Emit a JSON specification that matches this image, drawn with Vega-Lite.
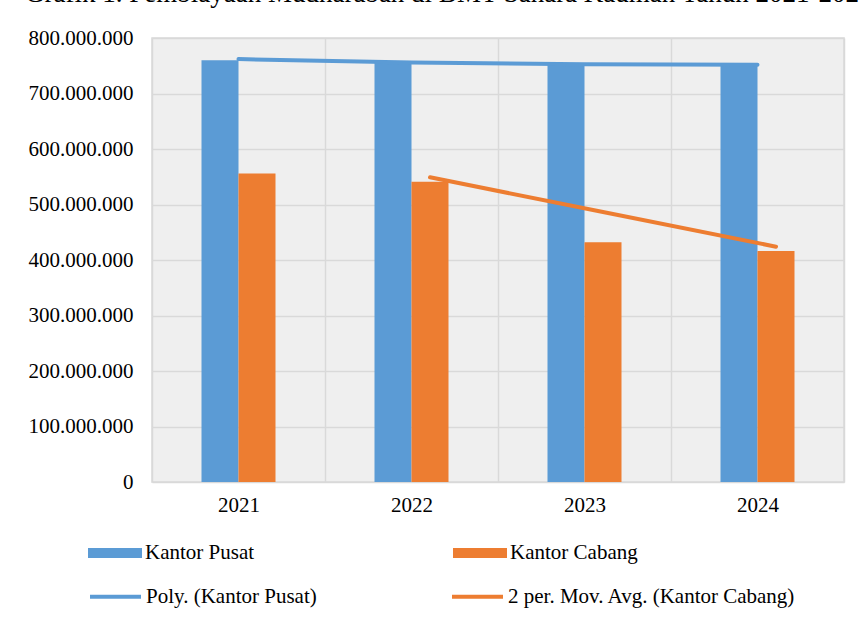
{
  "$schema": "https://vega.github.io/schema/vega-lite/v6.json",
  "width": 692,
  "height": 444,
  "autosize": "none",
  "padding": {"left": 152, "top": 38, "right": 16, "bottom": 136},
  "background": "white",
  "title": {
    "text": "Grafik 1. Pembiayaan Mudharabah di BMT Sahara Kauman Tahun 2021-2024",
    "anchor": "start",
    "frame": "group",
    "font": "Liberation Serif",
    "fontSize": 27,
    "fontWeight": "normal",
    "color": "black",
    "baseline": "alphabetic",
    "offset": 17,
    "dx": -127,
    "dy": 19
  },
  "config": {
    "locale": {"number": {"decimal": ",", "thousands": ".", "grouping": [3], "currency": ["Rp", ""]}},
    "view": {"fill": "#efefef", "stroke": "#d9d9d9", "strokeWidth": 1.5},
    "font": "Liberation Serif",
    "axis": {"labelFont": "Liberation Serif"},
    "legend": {"labelFont": "Liberation Serif"}
  },
  "datasets": {
    "bars": [
      {"year": "2021", "series": "Kantor Pusat", "value": 760000000},
      {"year": "2021", "series": "Kantor Cabang", "value": 556000000},
      {"year": "2022", "series": "Kantor Pusat", "value": 756000000},
      {"year": "2022", "series": "Kantor Cabang", "value": 541000000},
      {"year": "2023", "series": "Kantor Pusat", "value": 754000000},
      {"year": "2023", "series": "Kantor Cabang", "value": 432000000},
      {"year": "2024", "series": "Kantor Pusat", "value": 754000000},
      {"year": "2024", "series": "Kantor Cabang", "value": 416000000}
    ],
    "poly": [
      {"year": "2021", "trend": "Poly. (Kantor Pusat)", "value": 762000000},
      {"year": "2022", "trend": "Poly. (Kantor Pusat)", "value": 756000000},
      {"year": "2023", "trend": "Poly. (Kantor Pusat)", "value": 752500000},
      {"year": "2024", "trend": "Poly. (Kantor Pusat)", "value": 752000000}
    ],
    "ma": [
      {"year": "2022", "trend": "2 per. Mov. Avg. (Kantor Cabang)", "value": 549000000},
      {"year": "2023", "trend": "2 per. Mov. Avg. (Kantor Cabang)", "value": 486500000},
      {"year": "2024", "trend": "2 per. Mov. Avg. (Kantor Cabang)", "value": 424000000}
    ]
  },
  "layer": [
    {
      "data": {"name": "bars"},
      "mark": {"type": "bar"},
      "encoding": {
        "x": {
          "field": "year",
          "type": "ordinal",
          "scale": {"paddingInner": 0, "paddingOuter": 0},
          "axis": {
            "title": null,
            "labelAngle": 0,
            "labelFont": "Liberation Serif",
            "labelFontSize": 21,
            "labelColor": "black",
            "labelPadding": 12,
            "ticks": false,
            "domain": false,
            "grid": true,
            "tickBand": "extent",
            "gridColor": "#d9d9d9",
            "gridWidth": 1.5
          }
        },
        "xOffset": {
          "field": "series",
          "type": "nominal",
          "scale": {"domain": ["_a", "Kantor Pusat", "Kantor Cabang", "_b"], "paddingInner": 0, "paddingOuter": 0.338}
        },
        "y": {
          "field": "value",
          "type": "quantitative",
          "scale": {"domain": [0, 800000000], "nice": false},
          "axis": {
            "title": null,
            "values": [0, 100000000, 200000000, 300000000, 400000000, 500000000, 600000000, 700000000, 800000000],
            "format": ",.0f",
            "labelFont": "Liberation Serif",
            "labelFontSize": 21,
            "labelColor": "black",
            "labelPadding": 19,
            "ticks": false,
            "domain": false,
            "gridColor": "#d9d9d9",
            "gridWidth": 1.5
          }
        },
        "color": {
          "field": "series",
          "type": "nominal",
          "scale": {"domain": ["Kantor Pusat", "Kantor Cabang"], "range": ["#5b9bd5", "#ed7d31"]},
          "legend": {
            "orient": "none",
            "legendX": -64,
            "legendY": 488,
            "direction": "horizontal",
            "columns": 2,
            "columnPadding": 198,
            "padding": 0,
            "title": null,
            "symbolType": "M-1,-0.185H1V0.185H-1Z",
            "symbolSize": 2916,
            "symbolStrokeWidth": 0,
            "symbolOpacity": 1,
            "labelFont": "Liberation Serif",
            "labelFontSize": 21,
            "labelColor": "black",
            "labelOffset": 3,
            "labelLimit": 500
          }
        }
      }
    },
    {
      "data": {"name": "poly"},
      "mark": {"type": "line", "strokeWidth": 4, "strokeCap": "round"},
      "encoding": {
        "x": {"field": "year", "type": "ordinal"},
        "y": {"field": "value", "type": "quantitative"},
        "stroke": {
          "field": "trend",
          "type": "nominal",
          "scale": {"domain": ["Poly. (Kantor Pusat)", "2 per. Mov. Avg. (Kantor Cabang)"], "range": ["#5b9bd5", "#ed7d31"]},
          "legend": {
            "orient": "none",
            "legendX": -64,
            "legendY": 531,
            "direction": "horizontal",
            "columns": 2,
            "columnPadding": 127,
            "padding": 0,
            "title": null,
            "symbolType": "stroke",
            "symbolSize": 2601,
            "symbolStrokeWidth": 4,
            "labelFont": "Liberation Serif",
            "labelFontSize": 21,
            "labelColor": "black",
            "labelOffset": 3,
            "labelLimit": 500
          }
        }
      }
    },
    {
      "data": {"name": "ma"},
      "mark": {"type": "line", "strokeWidth": 4, "strokeCap": "round", "xOffset": 18.5},
      "encoding": {
        "x": {"field": "year", "type": "ordinal"},
        "y": {"field": "value", "type": "quantitative"},
        "stroke": {"field": "trend", "type": "nominal"}
      }
    }
  ]
}
